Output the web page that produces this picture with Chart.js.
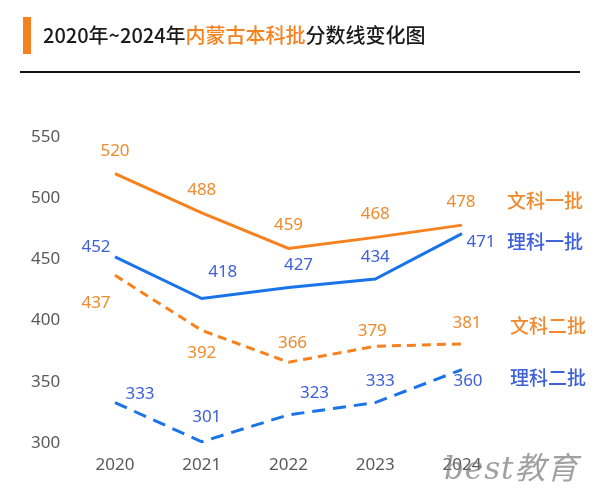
<!DOCTYPE html>
<html>
<head>
<meta charset="utf-8">
<script src="https://cdn.jsdelivr.net/npm/chart.js@4/dist/chart.umd.min.js"></script>
<style>
  html, body { margin: 0; padding: 0; background: #fff; }
  #wrap { position: relative; width: 600px; height: 488px; overflow: hidden; }
  #cbox { position: absolute; left: 0; top: 0; width: 600px; height: 488px; }
  #bar { position: absolute; left: 23px; top: 17px; width: 8px; height: 37px; background: #f5821f; }
  #title { position: absolute; left: 43px; top: 20px; font-family: "Noto Sans CJK SC", "Noto Sans", sans-serif; font-size: 20px; font-weight: 500; color: #1a1a1a; line-height: 30px; white-space: nowrap; }
  #title .hl { color: #f5821f; }
  #rule { position: absolute; left: 20px; top: 71px; width: 560px; height: 2px; background: #111; }
  #wm { position: absolute; left: 444px; top: 443px; font-family: "DejaVu Serif", "Noto Sans CJK SC", serif; font-style: italic; font-size: 31px; color: rgba(120,120,120,0.7); white-space: nowrap; letter-spacing: 1px; }
</style>
</head>
<body>
<div id="wrap">
  <div id="cbox"><canvas id="c"></canvas></div>
  <div id="bar"></div>
  <div id="title">2020年~2024年<span class="hl">内蒙古本科批</span>分数线变化图</div>
  <div id="rule"></div>
  <div id="wm">best教育</div>
</div>
<script>
// ---- data ----
const years = ['2020', '2021', '2022', '2023', '2024'];
const wenke1 = [520, 488, 459, 468, 478];   // 文科一批
const like1  = [452, 418, 427, 434, 471];   // 理科一批
const wenke2 = [437, 392, 366, 379, 381];   // 文科二批
const like2  = [333, 301, 323, 333, 360];   // 理科二批
const seriesNames = ['文科一批', '理科一批', '文科二批', '理科二批'];
const yTicks = [300, 350, 400, 450, 500, 550];

const ORANGE = '#f5821f';
const BLUE = '#1a73e8';
const ORANGE_TXT = '#f08a2e';
const BLUE_TXT = '#3e60d8';

// label offsets (dx, dy) per point, per series
const labelOffsets = [
  [[0,-23],[0,-23],[0,-23],[0,-23],[-1,-23]],
  [[-19,-10],[21,-26],[10,-22],[0,-22],[19,8]],
  [[-19,28],[0,23],[4,-19],[-3,-15],[5,-21]],
  [[25,-8],[5,-25],[26,-22],[5,-21],[6,12]]
];
const endLabelDy = [-24, 8, -18, 8];
const endLabelX = [545, 545, 548, 548];

const labelPlugin = {
  id: 'labels',
  afterDatasetsDraw(chart) {
    const ctx = chart.ctx;
    ctx.save();
    ctx.textAlign = 'center';
    ctx.textBaseline = 'middle';
    chart.data.datasets.forEach((ds, i) => {
      const meta = chart.getDatasetMeta(i);
      ctx.fillStyle = ds.txtColor;
      ctx.font = '17px "Noto Sans", "Noto Sans CJK SC", sans-serif';
      meta.data.forEach((pt, j) => {
        const o = labelOffsets[i][j];
        ctx.fillText(String(ds.data[j]), pt.x + o[0], pt.y + o[1]);
      });
      const last = meta.data[meta.data.length - 1];
      ctx.font = '500 19px "Noto Sans CJK SC", sans-serif';
      ctx.fillText(seriesNames[i], endLabelX[i], last.y + endLabelDy[i]);
    });
    ctx.restore();
  }
};

new Chart(document.getElementById('c'), {
  type: 'line',
  data: {
    labels: years,
    datasets: [
      { label: seriesNames[0], data: wenke1, borderColor: ORANGE, txtColor: ORANGE_TXT, borderWidth: 3, pointRadius: 0, tension: 0 },
      { label: seriesNames[1], data: like1, borderColor: BLUE, txtColor: BLUE_TXT, borderWidth: 3, pointRadius: 0, tension: 0 },
      { label: seriesNames[2], data: wenke2, borderColor: ORANGE, txtColor: ORANGE_TXT, borderWidth: 3, borderDash: [9, 6], pointRadius: 0, tension: 0 },
      { label: seriesNames[3], data: like2, borderColor: BLUE, txtColor: BLUE_TXT, borderWidth: 3, borderDash: [13, 8], pointRadius: 0, tension: 0 }
    ]
  },
  options: {
    responsive: true,
    maintainAspectRatio: false,
    animation: false,
    layout: { padding: { left: 31, right: 138, top: 137, bottom: 0 } },
    plugins: { legend: { display: false }, tooltip: { enabled: false } },
    scales: {
      x: {
        offset: false,
        afterFit(scale) { scale.height = 45; },
        grid: { display: false, drawTicks: false },
        border: { display: false },
        ticks: { color: '#5a5a5a', font: { size: 17, family: '"Noto Sans", sans-serif' }, padding: 12, maxRotation: 0 }
      },
      y: {
        min: 300, max: 550,
        afterBuildTicks(scale) { scale.ticks = yTicks.map(v => ({ value: v })); },
        afterFit(scale) { scale.width = 84; },
        grid: { display: false, drawTicks: false },
        border: { display: false },
        ticks: { color: '#5a5a5a', font: { size: 17, family: '"Noto Sans", sans-serif' }, padding: 0, crossAlign: 'far' }
      }
    }
  },
  plugins: [labelPlugin]
});
</script>
</body>
</html>
